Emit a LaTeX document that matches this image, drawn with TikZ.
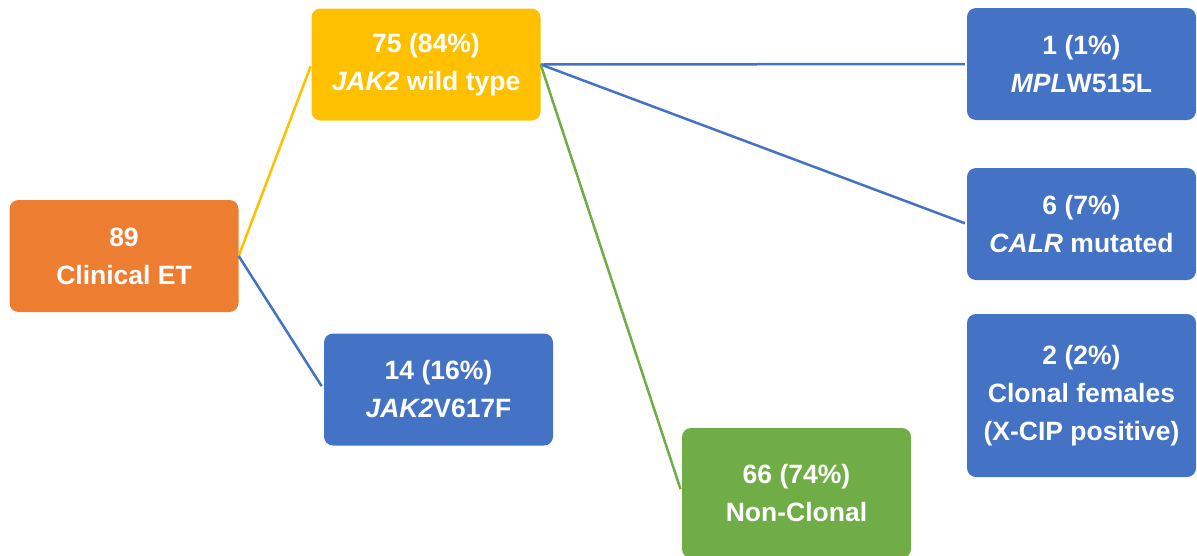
\documentclass[tikz,border=0pt]{standalone}
\usepackage{fontspec}
\setmainfont{Liberation Sans}
\usepackage{tikz}
\usetikzlibrary{positioning}

\definecolor{etorange}{HTML}{ED7D31}
\definecolor{wtyellow}{HTML}{FFC000}
\definecolor{mutblue}{HTML}{4472C4}
\definecolor{ncgreen}{HTML}{70AD47}

\begin{document}
\begin{tikzpicture}[
                x=1pt, y=-1pt,
                box/.style={rectangle, rounded corners=9pt, inner sep=0pt,
                    minimum width=229pt, minimum height=112pt, text=white,
                    align=center, font=\fontsize{26.5}{38}\selectfont\bfseries},
                etbox/.style={box, fill=etorange},
                wtbox/.style={box, fill=wtyellow},
                mutbox/.style={box, fill=mutblue},
                ncbox/.style={box, fill=ncgreen},
                link/.style={line width=2.5pt}
            ]

            \useasboundingbox (0,0) rectangle (1197,555);

            % Root
            \node[etbox] (et) at (124,256) {89\\Clinical ET};

            % JAK2 split
            \node[wtbox] (wild) at (426,64.5) {75 (84\%)\\\textit{JAK2} wild type};
            \node[mutbox] (v617) at (438.5,389.5) {14 (16\%)\\\textit{JAK2}V617F};

            % Wild type split
            \node[ncbox, minimum height=130pt] (nonclonal) at (796.5,493) {66 (74\%)\\Non-Clonal};
            \node[mutbox] (mpl) at (1081.5,64) {1 (1\%)\\\textit{MPL}W515L};
            \node[mutbox] (calr) at (1081.5,224) {6 (7\%)\\\textit{CALR} mutated};
            \node[mutbox, minimum height=163pt] (females) at (1081.5,395.5) {2 (2\%)\\Clonal females\\(X-CIP positive)};

            % Connections
            \draw[link, wtyellow, shorten >=2pt] (et.east) -- (wild.west);
            \draw[link, mutblue, shorten >=4pt] (et.east) -- (v617.west);

            \draw[link, mutblue, shorten >=2pt] (wild.east) -- (mpl.west);
            \draw[link, mutblue, shorten >=2pt] (wild.east) -- (calr.west);
            \draw[link, ncgreen, shorten >=4pt] (wild.east) -- (nonclonal.west);

        \end{tikzpicture}
\end{document}
